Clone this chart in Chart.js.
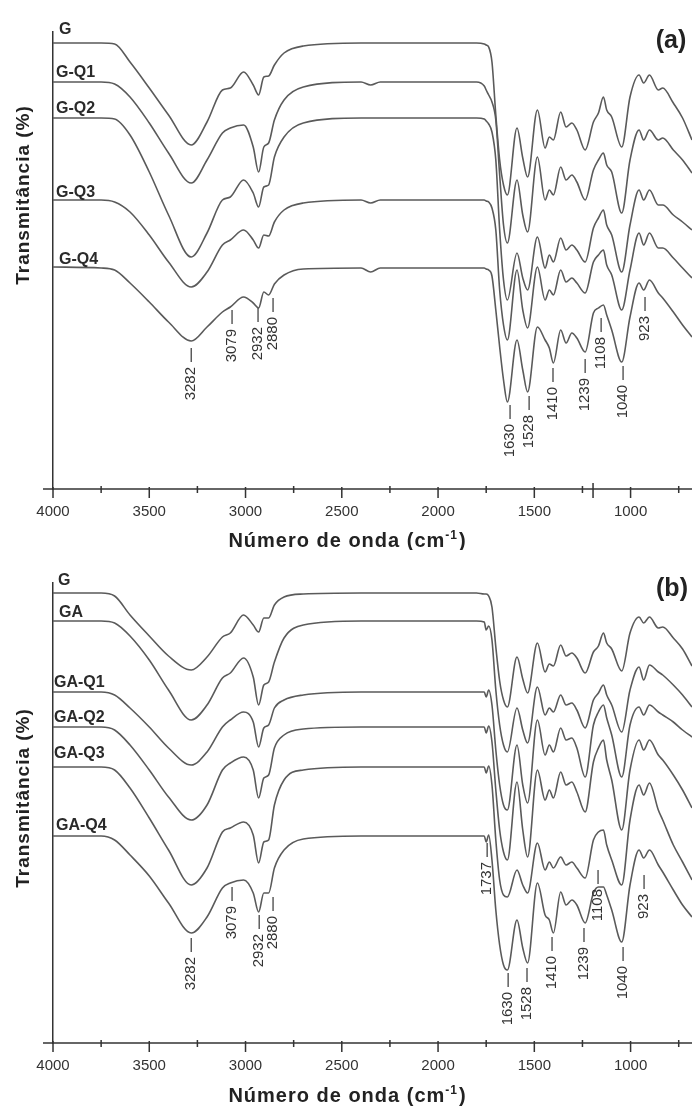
<!DOCTYPE html>
<html>
<head>
<meta charset="utf-8">
<script src="https://cdn.jsdelivr.net/npm/chart.js@4.4.1/dist/chart.umd.min.js"></script>
<style>
  html, body { margin: 0; padding: 0; background: #fff; }
  .panel { position: absolute; left: 0; width: 692px; }
  #panelA { top: 0; height: 550px; }
  #panelB { top: 550px; height: 561px; }
</style>
</head>
<body>
<div class="panel" id="panelA"><canvas id="chartA" width="692" height="550"></canvas></div>
<div class="panel" id="panelB"><canvas id="chartB" width="692" height="561"></canvas></div>
<script>
// Wavenumber grid (cm-1), shared by every spectrum
const waveNumbers = [4000, 3750, 3680, 3600, 3500, 3400, 3282, 3200, 3120, 3079, 3010, 2960, 2932, 2905, 2880, 2850, 2800, 2700, 2400, 2350, 2300, 1800,
  1760, 1750, 1737, 1720, 1700, 1680, 1660, 1640, 1590, 1560, 1535, 1484, 1444, 1422, 1401, 1363, 1335, 1305, 1279, 1236, 1193, 1167, 1141, 1124, 1098, 1046, 1003, 956, 932, 902, 856, 833, 778, 730, 681];

// Axis ticks
const majorTicks = [4000, 3500, 3000, 2500, 2000, 1500, 1000];
const minorTicks = [3750, 3250, 2750, 2250, 1750, 1250, 750];

// Panel (a) - stacked transmittance (arbitrary units)
const namesA = ["G", "G-Q1", "G-Q2", "G-Q3", "G-Q4"];
const gA = [446, 446, 445, 427, 401, 374, 344, 367, 399, 401, 417, 404, 394, 412, 413, 424, 436, 443, 446, 446, 446, 446,
  445, 444, 442, 427, 374, 329, 304, 294, 361, 331, 312, 379, 341, 352, 349, 377, 362, 366, 359, 339, 367, 376, 392, 379, 372, 342, 392, 414, 406, 414, 399, 401, 386, 371, 349];
const gq1A = [407, 407, 405, 392, 366, 336, 306, 329, 356, 361, 364, 342, 317, 342, 346, 369, 389, 402, 407, 404, 407, 407,
  403, 399, 394, 387, 369, 314, 264, 246, 309, 274, 257, 332, 289, 299, 294, 322, 309, 314, 307, 289, 319, 329, 336, 324, 317, 276, 329, 359, 349, 359, 349, 351, 339, 329, 316];
const gq2A = [371, 371, 370, 354, 317, 274, 232, 256, 289, 292, 309, 296, 282, 302, 304, 332, 352, 366, 371, 371, 371, 371,
  370, 368, 365, 357, 329, 259, 209, 189, 236, 211, 199, 252, 221, 234, 227, 251, 239, 244, 239, 227, 261, 271, 279, 264, 254, 217, 264, 299, 289, 299, 284, 284, 274, 267, 259];
const gq3A = [289, 289, 287, 277, 254, 227, 202, 217, 244, 249, 259, 249, 241, 254, 253, 267, 279, 286, 289, 286, 289, 289,
  289, 288, 287, 281, 259, 199, 164, 149, 219, 179, 161, 222, 189, 199, 194, 219, 207, 211, 206, 196, 227, 234, 239, 224, 214, 179, 219, 256, 244, 256, 241, 241, 231, 221, 211];
const gq4A = [222, 221, 219, 206, 187, 167, 148, 162, 177, 182, 192, 186, 181, 197, 194, 205, 214, 220, 221, 217, 221, 221,
  221, 220, 219, 213, 179, 142, 109, 87, 149, 119, 97, 162, 149, 141, 126, 159, 146, 156, 151, 137, 176, 181, 184, 174, 159, 127, 172, 206, 199, 209, 196, 191, 177, 164, 152];

// Panel (b)
const namesB = ["G", "GA", "GA-Q1", "GA-Q2", "GA-Q3", "GA-Q4"];
const gB = [450, 450, 447, 428, 407, 387, 373, 386, 406, 410, 428, 418, 411, 425, 425, 438, 446, 449, 450, 450, 450, 450,
  449, 449, 447, 436, 396, 362, 343, 336, 386, 364, 350, 400, 371, 379, 377, 398, 387, 390, 385, 370, 391, 397, 410, 400, 394, 372, 410, 426, 420, 426, 415, 416, 405, 394, 377];
const gaB = [422, 422, 420, 407, 383, 353, 323, 338, 365, 370, 385, 366, 338, 358, 361, 381, 405, 418, 422, 422, 422, 422,
  421, 413, 417, 403, 353, 318, 298, 291, 335, 313, 300, 356, 328, 335, 331, 348, 338, 340, 333, 315, 343, 350, 358, 348, 338, 311, 353, 376, 363, 378, 371, 368, 358, 348, 336];
const gaq1B = [351, 351, 348, 335, 316, 295, 278, 291, 316, 323, 331, 321, 296, 315, 318, 335, 343, 348, 351, 351, 351, 351,
  351, 346, 353, 338, 293, 258, 238, 233, 298, 258, 240, 323, 288, 298, 291, 315, 303, 305, 295, 266, 318, 331, 338, 325, 308, 266, 318, 336, 328, 338, 331, 328, 321, 313, 306];
const gaq2B = [316, 316, 313, 298, 273, 246, 223, 238, 273, 280, 286, 273, 245, 265, 268, 295, 308, 314, 316, 316, 316, 316,
  316, 310, 317, 301, 253, 213, 191, 183, 261, 213, 186, 273, 243, 253, 245, 271, 258, 261, 251, 231, 281, 295, 303, 283, 263, 213, 273, 303, 293, 303, 288, 283, 268, 253, 235];
const gaq3B = [276, 276, 273, 255, 225, 193, 158, 175, 211, 215, 221, 208, 180, 201, 203, 238, 263, 273, 276, 276, 276, 276,
  276, 270, 277, 258, 203, 163, 148, 146, 173, 158, 150, 200, 173, 181, 175, 186, 178, 181, 175, 165, 203, 211, 213, 198, 183, 158, 223, 258, 248, 260, 233, 223, 198, 181, 163];
const gaq4B = [207, 207, 203, 188, 167, 140, 110, 126, 155, 160, 163, 150, 131, 150, 150, 175, 193, 204, 207, 207, 207, 207,
  207, 201, 208, 183, 133, 98, 78, 73, 123, 95, 80, 160, 128, 123, 110, 151, 138, 143, 138, 120, 150, 156, 156, 148, 133, 101, 158, 193, 185, 193, 178, 171, 153, 138, 126];

// Band assignments (label, wavenumber, top of marker in data units)
const peakLabelsA = ["3282", "3079", "2932", "2880", "1630", "1528", "1410", "1239", "1108", "1040", "923"];
const peakPosA = [3282, 3070, 2935, 2857, 1626, 1527, 1403, 1236, 1153, 1039, 925];
const peakTopA = [141, 179, 181, 191, 84, 93, 121, 130, 171, 123, 192];

const peakLabelsB = ["3282", "3079", "2932", "2880", "1737", "1630", "1528", "1410", "1239", "1108", "1040", "923"];
const peakPosB = [3282, 3070, 2929, 2857, 1745, 1636, 1538, 1408, 1242, 1169, 1039, 930];
const peakTopB = [105, 156, 128, 146, 200, 70, 75, 106, 115, 173, 96, 168];

const FONT = "'Liberation Sans', Arial, Helvetica, sans-serif";
const LINE_COLOR = "#5a5a5a";
const AXIS_COLOR = "#333";

function decorPlugin(cfg) {
  return {
    id: "decor",
    afterDraw(chart) {
      const { ctx, chartArea } = chart;
      const xs = chart.scales.x;
      const ys = chart.scales.y;
      const bottom = chartArea.bottom;
      ctx.save();

      // x axis line and ticks
      ctx.strokeStyle = AXIS_COLOR;
      ctx.lineWidth = 1.5;
      ctx.beginPath();
      ctx.moveTo(43, bottom);
      ctx.lineTo(chartArea.right, bottom);
      ctx.stroke();
      ctx.beginPath();
      majorTicks.forEach((v) => {
        const x = xs.getPixelForValue(v);
        ctx.moveTo(x, bottom - 2);
        ctx.lineTo(x, bottom + 9);
      });
      minorTicks.forEach((v) => {
        const x = xs.getPixelForValue(v);
        ctx.moveTo(x, bottom - 3);
        ctx.lineTo(x, bottom + 4);
      });
      (cfg.extraTicks || []).forEach((v) => {
        const x = xs.getPixelForValue(v);
        ctx.moveTo(x, bottom - 6);
        ctx.lineTo(x, bottom + 9);
      });
      ctx.stroke();

      // x axis title with superscript
      ctx.fillStyle = "#222";
      ctx.textBaseline = "alphabetic";
      ctx.letterSpacing = "1px";
      const main = "Número de onda (cm";
      const sup = "-1";
      const tail = ")";
      ctx.font = "bold 20px " + FONT;
      const w1 = ctx.measureText(main).width;
      const w3 = ctx.measureText(tail).width;
      ctx.font = "bold 12px " + FONT;
      const w2 = ctx.measureText(sup).width;
      let tx = cfg.titleX - (w1 + w2 + w3) / 2;
      ctx.font = "bold 20px " + FONT;
      ctx.fillText(main, tx, cfg.titleY);
      ctx.font = "bold 12px " + FONT;
      ctx.fillText(sup, tx + w1, cfg.titleY - 8);
      ctx.font = "bold 20px " + FONT;
      ctx.fillText(tail, tx + w1 + w2 + 1, cfg.titleY);

      // y axis title
      ctx.save();
      ctx.translate(24, cfg.yTitleY);
      ctx.rotate(-Math.PI / 2);
      ctx.textAlign = "center";
      ctx.textBaseline = "middle";
      ctx.font = "bold 19px " + FONT;
      ctx.fillText("Transmitância (%)", 0, 0);
      ctx.restore();
      ctx.letterSpacing = "0px";

      // panel letter
      ctx.font = "bold 25px " + FONT;
      ctx.textAlign = "center";
      ctx.textBaseline = "middle";
      ctx.fillText(cfg.letter, cfg.letterX, cfg.letterY);

      // curve names
      ctx.font = "bold 16px " + FONT;
      ctx.textAlign = "left";
      ctx.textBaseline = "alphabetic";
      ctx.fillStyle = "#2a2a2a";
      cfg.names.forEach((name, i) => {
        const y = ys.getPixelForValue(cfg.series[i][0]) - cfg.nameGap[i];
        ctx.fillText(name, chartArea.left + cfg.nameDx[i], y);
      });

      // band markers
      ctx.strokeStyle = "#444";
      ctx.lineWidth = 1.3;
      ctx.fillStyle = "#333";
      ctx.font = "15px " + FONT;
      cfg.peakLabels.forEach((lab, i) => {
        const x = xs.getPixelForValue(cfg.peakPos[i]);
        const y0 = ys.getPixelForValue(cfg.peakTop[i]);
        ctx.beginPath();
        ctx.moveTo(x, y0);
        ctx.lineTo(x, y0 + 14);
        ctx.stroke();
        ctx.save();
        ctx.translate(x, y0 + 19);
        ctx.rotate(-Math.PI / 2);
        ctx.textAlign = "right";
        ctx.textBaseline = "middle";
        ctx.fillText(lab, 0, 0);
        ctx.restore();
      });

      ctx.restore();
    },
  };
}

function buildChart(id, cfg) {
  const datasets = cfg.names.map((name, i) => ({
    label: name,
    data: waveNumbers.map((w, j) => ({ x: w, y: cfg.series[i][j] })),
    borderColor: LINE_COLOR,
    borderWidth: 1.6,
    pointRadius: 0,
    fill: false,
    cubicInterpolationMode: "monotone",
  }));

  return new Chart(document.getElementById(id), {
    type: "line",
    data: { datasets },
    options: {
      responsive: false,
      animation: false,
      devicePixelRatio: 1,
      layout: { padding: { top: cfg.top, right: 0, left: 0, bottom: 0 } },
      plugins: { legend: { display: false }, tooltip: { enabled: false } },
      scales: {
        x: {
          type: "linear",
          reverse: true,
          min: 681,
          max: 4000,
          afterBuildTicks: (s) => {
            s.ticks = majorTicks.map((v) => ({ value: v }));
          },
          afterFit: (s) => {
            s.height = cfg.axisHeight;
            s.paddingLeft = 0;
            s.paddingRight = 0;
          },
          grid: { display: false, drawTicks: false },
          border: { display: false },
          ticks: {
            padding: 14,
            color: "#333",
            autoSkip: false,
            maxRotation: 0,
            font: { size: 15, family: FONT },
            callback: (v) => String(v),
          },
        },
        y: {
          type: "linear",
          min: 0,
          max: cfg.yMax,
          afterFit: (s) => {
            s.width = 53;
          },
          ticks: { display: false },
          grid: { display: false, drawTicks: false },
          border: { display: true, color: AXIS_COLOR, width: 1.5 },
        },
      },
    },
    plugins: [decorPlugin(cfg)],
  });
}

buildChart("chartA", {
  names: namesA,
  series: [gA, gq1A, gq2A, gq3A, gq4A],
  nameDx: [6, 3, 3, 3, 6],
  nameGap: [9, 5, 5, 3, 3],
  peakLabels: peakLabelsA,
  peakPos: peakPosA,
  peakTop: peakTopA,
  extraTicks: [1195],
  top: 32,
  axisHeight: 61,
  yMax: 457,
  titleX: 347,
  titleY: 547,
  yTitleY: 195,
  letter: "(a)",
  letterX: 671,
  letterY: 41,
});

buildChart("chartB", {
  names: namesB,
  series: [gB, gaB, gaq1B, gaq2B, gaq3B, gaq4B],
  nameDx: [5, 6, 1, 1, 1, 3],
  nameGap: [8, 4, 5, 5, 9, 6],
  peakLabels: peakLabelsB,
  peakPos: peakPosB,
  peakTop: peakTopB,
  top: 33,
  axisHeight: 68,
  yMax: 460,
  titleX: 347,
  titleY: 552,
  yTitleY: 248,
  letter: "(b)",
  letterX: 672,
  letterY: 39,
});
</script>
</body>
</html>
